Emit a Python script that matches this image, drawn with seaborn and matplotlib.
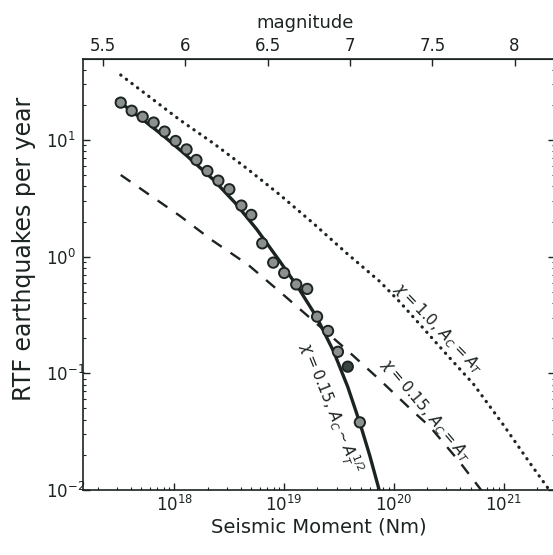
import numpy as np
import pandas as pd
import matplotlib
matplotlib.use('Agg')
import matplotlib.pyplot as plt
import seaborn as sns

# observed RTF event rates (log10 moment, events per year)
obs_log_moment = [17.51, 17.61, 17.71, 17.81, 17.91, 18.01, 18.11, 18.20, 18.30, 18.40,
                  18.50, 18.61, 18.70, 18.80, 18.90, 19.00, 19.11, 19.21, 19.30, 19.40,
                  19.49, 19.58, 19.69]
obs_rate = [20.9, 17.8, 15.8, 14.1, 11.8, 9.8, 8.3, 6.74, 5.42, 4.48,
            3.78, 2.74, 2.28, 1.30, 0.889, 0.725, 0.578, 0.529, 0.306, 0.231,
            0.153, 0.114, 0.038]
obs_kind = ['grey'] * 21 + ['dark', 'grey']

# model curves (log10 moment, log10 rate)
dot_lm = [17.51, 18.05, 18.354, 18.658, 18.962, 19.265, 19.57, 19.873, 20.056,
          20.511, 20.724, 20.997, 21.241, 21.44]
dot_ln = [1.557, 1.171, 0.972, 0.757, 0.529, 0.286, 0.029, -0.214, -0.39,
          -0.87, -1.09, -1.44, -1.77, -2.03]

dash_lm = [17.51, 18.05, 18.339, 18.673, 18.977, 19.554, 19.873, 20.177, 20.329, 20.60, 20.82]
dash_ln = [0.700, 0.349, 0.143, -0.071, -0.314, -0.785, -1.057, -1.328, -1.457, -1.76, -2.03]

solid_lm = [17.476, 17.70, 17.90, 18.10, 18.354, 18.55, 18.75, 18.962, 19.13, 19.296,
            19.45, 19.58, 19.691, 19.78, 19.875]
solid_ln = [1.343, 1.183, 1.035, 0.875, 0.66, 0.464, 0.234, -0.042, -0.269, -0.518,
            -0.811, -1.117, -1.428, -1.704, -2.03]

mag_ticks = [5.5, 6, 6.5, 7, 7.5, 8]

ink = '#1b2422'

obs = pd.DataFrame({'moment': 10 ** np.array(obs_log_moment), 'rate': obs_rate, 'kind': obs_kind})
dot = pd.DataFrame({'moment': 10 ** np.array(dot_lm), 'rate': 10 ** np.array(dot_ln)})
dash = pd.DataFrame({'moment': 10 ** np.array(dash_lm), 'rate': 10 ** np.array(dash_ln)})
solid = pd.DataFrame({'moment': 10 ** np.array(solid_lm), 'rate': 10 ** np.array(solid_ln)})

sns.set_style('ticks')
plt.rcParams['font.family'] = ['DejaVu Sans']
plt.rcParams['text.color'] = ink
plt.rcParams['axes.labelcolor'] = ink
plt.rcParams['xtick.color'] = ink
plt.rcParams['ytick.color'] = ink
plt.rcParams['axes.edgecolor'] = ink

fig = plt.figure(figsize=(5.53, 5.55), dpi=100)
ax = fig.add_axes([83 / 553, 1 - 490 / 555, (555 - 83) / 553, (490 - 59) / 555])

sns.lineplot(data=dot, x='moment', y='rate', sort=False, ax=ax, color=ink,
             lw=2.3, ls=(0, (0.1, 2.1)), dash_capstyle='round')
sns.lineplot(data=dash, x='moment', y='rate', sort=False, ax=ax, color=ink,
             lw=1.7, ls=(0, (5, 4.5)))
sns.lineplot(data=solid, x='moment', y='rate', sort=False, ax=ax, color=ink, lw=2.4)
sns.scatterplot(data=obs, x='moment', y='rate', hue='kind', ax=ax,
                palette={'grey': '#8c918f', 'dark': '#3a4441'},
                s=55, edgecolor=ink, linewidth=1.4, legend=False, zorder=5)

ax.set_xscale('log')
ax.set_yscale('log')
ax.set_xlim(10 ** 17.166, 10 ** 21.469)
ax.set_ylim(1e-2, 10 ** 1.694)

ax.set_xlabel('Seismic Moment (Nm)', fontsize=14, labelpad=2)
ax.set_ylabel('RTF earthquakes per year', fontsize=17)
ax.yaxis.set_label_coords(-0.1, 0.559)
ax.tick_params(which='both', direction='in', top=False, right=True, labelsize=12)
ax.tick_params(which='major', length=5, width=1)
ax.tick_params(which='minor', length=2.5, width=0.8)
# MATLAB-style: y tick labels start at a common left edge
ax.tick_params(axis='y', which='major', pad=26.5)
plt.setp(ax.get_yticklabels(), ha='left')
for sp in ax.spines.values():
    sp.set_linewidth(1.2)


def to_mag(m):
    m = np.asarray(m, dtype=float)
    with np.errstate(divide='ignore', invalid='ignore'):
        return (2.0 / 3.0) * (np.log10(m) - 9.1)


def to_moment(mw):
    return 10 ** (1.5 * np.asarray(mw, dtype=float) + 9.1)


top = ax.secondary_xaxis('top', functions=(to_mag, to_moment))
top.set_xticks(mag_ticks)
top.set_xticklabels(['5.5', '6', '6.5', '7', '7.5', '8'])
top.tick_params(direction='in', length=5, width=1, labelsize=12, pad=3)
top.xaxis.set_minor_locator(matplotlib.ticker.NullLocator())
top.set_xlabel('magnitude', fontsize=13, labelpad=6)
top.xaxis.label.set_x(0.47)

ax.text(10 ** 20.402, 10 ** -0.611, r'$\chi = 1.0,\, A_C = A_T$', fontsize=11,
        rotation=-46, ha='center', va='center', rotation_mode='anchor', color=ink)
ax.text(10 ** 20.293, 10 ** -1.314, r'$\chi = 0.15,\, A_C = A_T$', fontsize=11,
        rotation=-50, ha='center', va='center', rotation_mode='anchor', color=ink)
ax.text(10 ** 19.417, 10 ** -1.296, r'$\chi = 0.15,\, A_C \sim A_T^{1/2}$', fontsize=11,
        rotation=-68, ha='center', va='center', rotation_mode='anchor', color=ink)

fig.savefig('out.png', dpi=100)
